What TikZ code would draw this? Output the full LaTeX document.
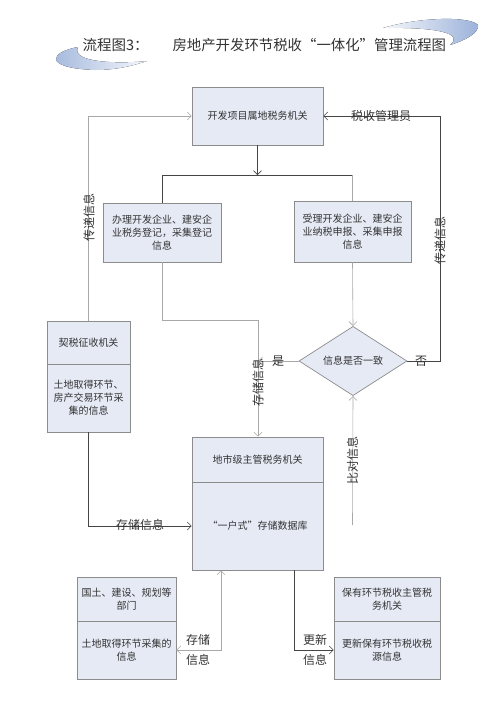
\documentclass[tikz,border=0pt]{standalone}
\usepackage{fontspec}
\setmainfont{Noto Sans CJK SC}
\usetikzlibrary{shapes.geometric,arrows.meta}
\definecolor{boxfill}{HTML}{E5EAF5}
\definecolor{boxline}{HTML}{8C8C8C}
\definecolor{darkline}{HTML}{454545}
\definecolor{lightline}{HTML}{A8A8A8}
\definecolor{inktext}{HTML}{333333}
\definecolor{swoosh}{HTML}{9CB2DA}
\tikzset{
  >={Straight Barb[length=4pt,width=8pt]},
  taxbox/.style={draw=boxline,fill=boxfill,line width=0.7pt,align=center,inner sep=2pt,text=inktext,font=\fontsize{10}{13}\selectfont},
  flowline/.style={draw=darkline,line width=0.6pt},
  softline/.style={draw=lightline,line width=0.6pt},
  linelabel/.style={font=\fontsize{12}{14}\selectfont,text=inktext,inner sep=1pt}
}
\begin{document}
\begin{tikzpicture}[x=1pt,y=-1pt]
        \useasboundingbox (0,0) rectangle (500,718);
        % Draw title swooshes
        \fill[left color=swoosh,right color=swoosh!10] (78,47) .. controls (50,52) and (42,68) .. (95,70) .. controls (118,70) and (135,65) .. (147,61) .. controls (120,64) and (70,63) .. (78,47) -- cycle;
        \fill[left color=swoosh!10,right color=swoosh] (383,28) .. controls (420,17) and (470,16) .. (478,25) .. controls (479,33) and (466,40) .. (450,45) .. controls (464,34) and (440,27) .. (383,28) -- cycle;
        % Draw title
        \node[anchor=west,font=\fontsize{14.5}{16}\selectfont,text=inktext] (titleno) at (79,45) {流程图3：};
        \node[anchor=west,font=\fontsize{14.4}{16}\selectfont,text=inktext] (title) at (169,45) {房地产开发环节税收“一体化”管理流程图};
        % Draw boxes
        \node[taxbox,minimum width=131,minimum height=58] (dev) at (257.5,116) {开发项目属地税务机关};
        \node[taxbox,minimum width=118,minimum height=59,text width=110] (reg) at (162,232.5) {办理开发企业、建安企\\业税务登记，采集登记\\信息};
        \node[taxbox,minimum width=117,minimum height=61,text width=110] (dec) at (352.5,231.5) {受理开发企业、建安企\\业纳税申报、采集申报\\信息};
        \node[taxbox,diamond,minimum width=108,minimum height=62,inner sep=0pt] (chk) at (353,361) {信息是否一致};
        \node[taxbox,minimum width=131,minimum height=45] (cityTop) at (257.5,459.5) {地市级主管税务机关};
        \node[taxbox,minimum width=131,minimum height=88] (cityDB) at (257.5,526) {“一户式”存储数据库};
        \node[taxbox,minimum width=83,minimum height=43] (deedTop) at (88.5,342.5) {契税征收机关};
        \node[taxbox,minimum width=83,minimum height=68] (deedInfo) at (88.5,398) {土地取得环节、\\房产交易环节采\\集的信息};
        \node[taxbox,minimum width=99,minimum height=44] (landTop) at (126.5,599) {国土、建设、规划等\\部门};
        \node[taxbox,minimum width=99,minimum height=58] (landInfo) at (126.5,650) {土地取得环节采集的\\信息};
        \node[taxbox,minimum width=106,minimum height=44] (holdTop) at (387,599) {保有环节税收主管税\\务机关};
        \node[taxbox,minimum width=106,minimum height=58] (holdInfo) at (387,650) {更新保有环节税收税\\源信息};
        % Draw turning points
        \coordinate (split) at (257.5,175);
        \coordinate (splitL) at (162,175);
        \coordinate (splitR) at (352.5,175);
        \coordinate (merge) at (258,320);
        \coordinate (rturn) at (440,116);
        \coordinate (cmp) at (352.5,525);
        \coordinate (store) at (221,650);
        \coordinate (update) at (294,650);
        % Draw connectors
        \draw[flowline,->] (dev.south) -- (split);
        \draw[flowline] (splitL) -- (splitR);
        \draw[flowline] (splitL) -- (reg.north);
        \draw[softline] (splitR) -- (dec.north);
        \draw[softline,->] (deedTop.north) |- (dev.west);
        \draw[flowline,->] (chk.east) -| (rturn) -- (dev.east);
        \draw[softline] (reg.south) |- (merge);
        \draw[softline,->] (merge) -- (merge |- cityTop.north);
        \draw[softline,->] (chk.west) -- (chk.west -| merge);
        \draw[softline,->] (dec.south) -- (chk.north);
        \draw[softline,->] (cmp) -- (chk.south);
        \draw[flowline,->] (deedInfo.south) |- (cityDB.west);
        \draw[softline,<->] (landInfo.east) -- (store) -- (store |- cityDB.south);
        \draw[flowline,->] (update |- cityDB.south) -- (update) -- (holdInfo.west);
        % Draw connector labels
        \node[linelabel,rotate=90] (sendL) at (89,217) {传递信息};
        \node[linelabel,rotate=90] (sendR) at (440,240) {传递信息};
        \node[linelabel] (officer) at (381,116) {税收管理员};
        \node[linelabel] (yes) at (278,361) {是};
        \node[linelabel] (no) at (421,361) {否};
        \node[linelabel,rotate=90] (storeV) at (258,382) {存储信息};
        \node[linelabel,rotate=90] (compare) at (352.5,460) {比对信息};
        \node[linelabel] (storeH) at (140,525) {存储信息};
        \node[linelabel,align=center,font=\fontsize{12}{20}\selectfont] (storeB) at (198,650) {存储\\信息};
        \node[linelabel,align=center,font=\fontsize{12}{20}\selectfont] (updateB) at (315,650) {更新\\信息};
\end{tikzpicture}
\end{document}
